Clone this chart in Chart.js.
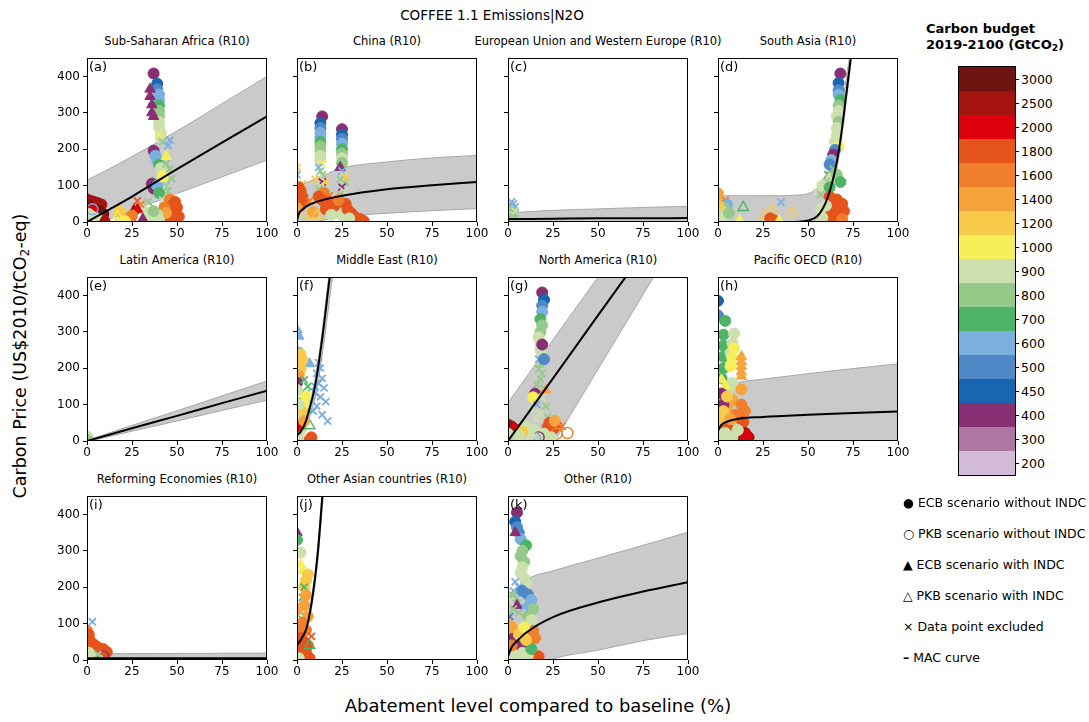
<!DOCTYPE html>
<html>
<head>
<meta charset="utf-8">
<script src="https://cdn.jsdelivr.net/npm/chart.js@4.4.1/dist/chart.umd.min.js"></script>
<style>
body { margin: 0; background: #fff; width: 1089px; height: 722px; position: relative; overflow: hidden; font-family: 'DejaVu Sans', sans-serif; color: #000; }
.t { position: absolute; white-space: nowrap; }
canvas { position: absolute; }
sub { font-size: 70%; vertical-align: -0.25em; line-height: 0; }
</style>
</head>
<body>
<script>
// Farger for karbonbudsjett (GtCO2)
const budgets = [3000, 2500, 2000, 1800, 1600, 1400, 1200, 1000, 900, 800, 700, 600, 500, 450, 400, 300, 200];
const budgetColors = ['#6e1410', '#a3140f', '#de000c', '#e5541b', '#ef7f2b', '#f5a33a', '#f8ca4a', '#f7ef59',
  '#cce0ad', '#95c98a', '#4eb465', '#7bafde', '#4e88c7', '#1965b0', '#882e72', '#ae76a3', '#d1bbd7'];

const xTicks = [0, 25, 50, 75, 100];
const yTicks = [0, 100, 200, 300, 400];

// MAC-kurver: x, middel, nedre og øvre grense
const aX = [0, 10, 25, 50, 75, 100];
const aMid = [0, 28, 70, 145, 218, 290];
const aLo = [-15, 4, 31, 78, 124, 170];
const aHi = [115, 140, 180, 250, 325, 400];

const bX = [0, 1, 2, 5, 10, 25, 50, 75, 100];
const bMid = [5, 22, 30, 42, 54, 72, 90, 101, 110];
const bLo = [-30, -20, -15, -5, 0, 14, 24, 31, 37];
const bHi = [85, 95, 100, 108, 118, 148, 165, 176, 183];

const cX = [0, 25, 50, 75, 100];
const cMid = [8, 9, 10, 10, 11];
const cLo = [-5, -5, -5, -5, -5];
const cHi = [25, 32, 36, 40, 43];

const dX = [0, 30, 45, 50, 55, 58, 60, 63, 66, 68, 70, 72, 74];
const dMid = [0, 0, 1, 4, 15, 35, 55, 100, 165, 225, 300, 380, 460];
const dLo = [-5, -5, -5, -5, 0, 15, 35, 80, 145, 205, 280, 360, 440];
const dHi = [72, 72, 74, 78, 92, 110, 130, 170, 230, 285, 350, 420, 480];

const eX = [0, 25, 50, 75, 100];
const eMid = [0, 35, 69, 104, 138];
const eLo = [-2, 27, 55, 84, 112];
const eHi = [2, 43, 83, 124, 165];

const fX = [0, 2, 5, 7, 10, 12.8, 15, 18, 20];
const fMid = [16, 25, 55, 90, 150, 238, 320, 443, 520];
const fLo = [8, 15, 38, 66, 118, 195, 272, 385, 465];
const fHi = [22, 32, 66, 104, 168, 258, 342, 470, 550];

const gX = [0, 25, 50, 75, 100];
const gMid = [0, 172, 345, 517, 690];
const gLo = [-213, -8, 197, 402, 607];
const gHi = [105, 278, 450, 623, 795];

const hX = [0, 1, 2, 5, 10, 25, 50, 75, 100];
const hMid = [28, 38, 45, 53, 60, 66, 72, 77, 81];
const hLo = [-10, -10, -10, -10, -10, -10, -10, -10, -10];
const hHi = [130, 140, 145, 152, 160, 170, 185, 199, 212];

const iX = [0, 50, 100];
const iMid = [5, 5, 5];
const iLo = [0, 0, 0];
const iHi = [17, 18, 19];

const jX = [0, 2, 5.4, 9, 11.7, 14, 16];
const jMid = [40, 55, 89, 187, 302, 444, 560];
const jLo = [35, 46, 78, 170, 280, 415, 525];
const jHi = [44, 60, 98, 202, 322, 468, 590];

const kX = [0, 2, 5, 10, 25, 50, 75, 100];
const kMid = [10, 35, 52, 75, 118, 158, 188, 214];
const kLo = [-80, -60, -45, -30, 3, 27, 53, 73];
const kHi = [150, 175, 195, 220, 245, 280, 315, 351];

// Scenariopunkter: [abatement %, pris, budsjett, type]
// E = ECB uten INDC, P = PKB uten INDC, T = ECB med INDC, Q = PKB med INDC, X = ekskludert
const aPts = [
  [37,408,400,'E'],[39,380,450,'E'],[39,365,500,'E'],[40,350,600,'E'],[40,335,600,'E'],[40,320,700,'E'],[40,305,800,'E'],
  [40,290,800,'E'],[40,275,900,'E'],[40,260,900,'E'],[41,245,900,'E'],[41,232,900,'E'],[42,220,800,'X'],[46,225,600,'X'],
  [45,210,600,'X'],[35,365,400,'T'],[35,345,400,'T'],[36,322,400,'T'],[36,300,400,'T'],[37,290,400,'T'],[37,196,400,'E'],
  [38,182,600,'E'],[39,170,600,'E'],[40,158,700,'E'],[41,148,900,'E'],[42,135,900,'E'],[44,160,800,'X'],[46,145,800,'X'],
  [47,120,800,'X'],[44,100,800,'X'],[42,90,900,'X'],[38,115,800,'X'],[36,105,400,'E'],[37,92,400,'E'],[39,100,600,'E'],
  [40,80,700,'E'],[45,85,800,'X'],[48,70,900,'X'],[42,60,900,'X'],[34,55,800,'X'],[32,40,900,'X'],[28,58,1800,'X'],
  [30,48,1600,'X'],[42,125,1000,'E'],[44,180,1000,'T'],[40,240,1000,'X'],
  [46,62,1600,'E'],[49,55,1800,'E'],[47,45,1800,'E'],[50,40,1800,'E'],[46,30,1800,'E'],[49,25,1800,'E'],[44,15,1800,'E'],
  [48,10,1800,'E'],[51,15,1800,'E'],[47,3,1800,'E'],[43,40,1600,'E'],[44,25,1400,'E'],
  [33,25,900,'E'],[36,15,900,'E'],[39,20,900,'E'],[35,5,900,'E'],[40,5,900,'E'],[31,8,400,'T'],[37,30,800,'E'],
  [0,62,2500,'E'],[2,58,2500,'E'],[4,55,2500,'E'],[6,52,2500,'E'],[8,48,2500,'E'],[1,45,2500,'E'],[3,42,3000,'E'],
  [5,40,2500,'E'],[7,30,3000,'E'],[9,22,3000,'E'],[3,32,2000,'E'],[1,22,900,'E'],[3,15,900,'E'],[5,10,900,'E'],
  [1,5,900,'E'],[8,5,900,'E'],[10,12,2500,'T'],[3,35,600,'P'],
  [18,28,1200,'E'],[20,22,1200,'P'],[17,15,1000,'Q'],[19,12,1200,'P'],[22,8,1400,'E'],[24,5,1800,'E'],[26,32,2500,'T'],
  [28,35,2000,'T'],[25,18,1600,'E'],[21,3,1000,'E']
];
const bPts = [
  [14,290,400,'E'],[13,272,450,'E'],[13,258,500,'E'],[13,245,600,'E'],[13,232,600,'E'],[13,220,700,'E'],[13,208,800,'E'],
  [13,195,800,'E'],[13,182,900,'E'],[13,170,900,'E'],[14,160,1000,'X'],[12,150,600,'X'],[13,140,800,'X'],[14,130,800,'X'],
  [12,120,900,'X'],[14,110,400,'X'],[13,100,900,'X'],[12,90,800,'X'],[15,80,1600,'E'],[12,70,1800,'E'],[14,60,1800,'E'],
  [10,118,1200,'X'],[16,110,1200,'X'],
  [25,255,400,'E'],[25,240,450,'E'],[25,228,500,'E'],[25,215,600,'E'],[25,200,700,'E'],[25,188,800,'E'],[25,175,900,'E'],
  [25,162,800,'E'],[24,150,400,'T'],[25,140,600,'X'],[26,128,900,'X'],[24,118,800,'X'],[27,108,800,'X'],[25,96,400,'X'],
  [27,122,1200,'X'],[26,85,900,'X'],[24,75,800,'X'],
  [0,130,600,'X'],[3,105,1200,'X'],[1,95,1800,'E'],[2,85,1800,'E'],[0,78,1800,'E'],[3,70,1800,'E'],[1,62,1800,'E'],
  [4,55,1800,'E'],[2,45,1800,'E'],[0,38,1400,'E'],[0,150,1200,'X'],[7,58,1600,'X'],[18,72,1600,'X'],[5,25,1200,'P'],
  [8,22,1200,'P'],[9,27,1400,'E'],[11,18,1200,'Q'],
  [20,40,900,'E'],[22,28,900,'E'],[26,12,900,'E'],[18,55,1800,'E'],[21,45,1800,'E'],[28,35,1800,'E'],[30,25,1800,'E'],
  [32,15,1800,'E'],[35,8,1800,'E'],[37,3,1800,'E'],[27,50,1800,'E'],[23,60,1600,'E'],[29,10,900,'E'],[16,35,1800,'E'],
  [19,20,900,'E']
];
const cPts = [
  [2,55,600,'X'],[3,50,600,'X'],[1,46,600,'X'],[4,42,600,'X'],[1,30,800,'E'],[3,22,800,'E'],[0,15,900,'E'],[2,8,800,'E'],
  [4,30,900,'X']
];
const dPts = [
  [4,60,1600,'X'],[2,55,1600,'X'],[0,78,1400,'E'],[5,48,600,'E'],[3,40,800,'E'],[2,30,900,'E'],[4,20,900,'E'],[1,10,900,'E'],
  [6,25,800,'E'],[0,45,1200,'E'],
  [14,40,700,'Q'],[30,32,1200,'Q'],[26,18,1200,'Q'],[41,25,1200,'Q'],[35,55,600,'X'],[29,10,1800,'E'],[31,5,1800,'E'],
  [12,4,1000,'T'],[34,4,1000,'T'],
  [55,82,900,'X'],[68,408,400,'E'],[67,382,450,'E'],[67,362,500,'E'],[67,350,600,'E'],[68,335,700,'E'],[67,320,800,'E'],
  [67,305,900,'E'],[66,290,900,'E'],[67,275,800,'E'],[66,258,900,'E'],[66,240,900,'E'],[65,222,900,'E'],[67,208,1000,'E'],
  [65,198,500,'E'],[64,185,400,'E'],[63,170,600,'E'],[62,158,500,'E'],[64,145,800,'X'],[61,130,700,'X'],[63,120,900,'E'],
  [60,110,800,'X'],[58,100,900,'E'],[62,95,700,'E'],[57,75,800,'X'],[66,130,800,'E'],[68,110,700,'E'],
  [62,70,1800,'E'],[66,62,1800,'E'],[69,50,1800,'E'],[64,40,1800,'E'],[70,30,1800,'E'],[61,22,1800,'E'],[67,15,1800,'E'],
  [63,5,1800,'E'],[69,8,1600,'E'],[57,35,900,'E'],[58,12,900,'E'],[60,45,900,'E']
];
const ePts = [[0,12,900,'E'],[1,6,900,'E'],[0,3,800,'E']];
const fPts = [
  [0,305,600,'T'],[1,288,600,'T'],[7,212,600,'T'],[1,243,600,'E'],[2,238,1200,'E'],[3,222,1200,'E'],[2,198,1200,'E'],
  [1,180,1400,'E'],[0,160,400,'E'],
  [12,215,600,'X'],[13,200,600,'X'],[11,186,600,'X'],[14,172,600,'X'],[12,158,600,'X'],[15,146,600,'X'],[10,132,600,'X'],
  [13,121,600,'X'],[16,108,600,'X'],[11,96,600,'X'],[9,82,600,'X'],[14,72,600,'X'],[17,55,600,'X'],[8,110,600,'X'],
  [10,150,600,'X'],
  [4,168,700,'X'],[6,150,700,'X'],[5,130,700,'X'],[3,110,700,'X'],[6,88,700,'X'],
  [5,122,1000,'E'],[4,100,1000,'E'],[3,80,1200,'E'],[0,140,900,'E'],[1,100,900,'E'],[0,60,900,'E'],[2,30,900,'E'],
  [1,15,900,'E'],[7,42,700,'Q'],[1,42,2000,'E'],[8,10,1800,'E'],[7,3,1800,'E'],[4,55,1400,'E']
];
const gPts = [
  [19,408,400,'E'],[20,388,450,'E'],[19,372,500,'E'],[19,355,600,'E'],[18,335,700,'E'],[19,318,800,'E'],[18,300,800,'E'],
  [17,285,900,'E'],[18,268,900,'E'],[18,250,900,'E'],[19,235,900,'E'],[17,225,600,'X'],[18,212,800,'X'],[17,198,800,'X'],
  [19,185,800,'X'],[18,170,800,'X'],[16,155,800,'X'],[20,145,800,'X'],[15,130,400,'E'],[21,140,1400,'T'],[14,120,1000,'E'],
  [19,120,900,'X'],[16,100,600,'X'],[21,95,800,'X'],[13,85,900,'X'],[18,75,900,'X'],[22,65,800,'X'],[16,60,900,'X'],
  [19,265,400,'E'],[20,225,500,'E'],
  [0,45,2500,'E'],[2,40,2500,'E'],[1,30,3000,'E'],[4,32,2000,'E'],[0,20,900,'E'],[27,42,1800,'E'],[25,32,1800,'E'],
  [22,38,1800,'E'],[27,20,1600,'P'],[33,22,1600,'P'],[30,40,1600,'X'],[10,40,900,'E'],[14,30,900,'E'],[20,20,900,'E'],
  [24,10,900,'E'],[17,10,400,'P'],[15,8,600,'P'],[12,15,900,'E'],[8,25,1200,'E'],[6,15,900,'E'],[23,50,1800,'E'],
  [26,55,1400,'E']
];
const hPts = [
  [0,385,450,'E'],[0,345,500,'E'],[4,330,700,'E'],[3,292,700,'E'],[3,262,700,'E'],[3,232,700,'E'],[3,200,700,'E'],
  [2,172,700,'E'],[9,295,900,'E'],[8,268,900,'E'],[7,242,900,'E'],[9,255,1000,'E'],[8,228,1000,'E'],[7,205,1000,'E'],
  [13,232,1400,'T'],[13,218,1400,'T'],[13,205,1400,'T'],[13,190,1400,'T'],[13,178,1400,'T'],[8,160,900,'E'],[7,150,900,'E'],
  [2,125,900,'E'],[2,168,1000,'T'],[4,152,1000,'T'],[13,142,1400,'E'],[8,112,1400,'E'],[5,92,1400,'E'],[13,100,1600,'E'],
  [15,82,1600,'E'],[12,62,1600,'E'],[10,72,1600,'E'],[2,130,400,'E'],[3,100,400,'E'],[5,122,1200,'E'],[3,82,1200,'E'],
  [1,60,1200,'E'],[14,52,1800,'E'],[5,40,1800,'E'],[15,22,2500,'E'],[17,10,2500,'E'],[14,5,2500,'E'],[16,15,2000,'E'],
  [4,22,900,'E'],[8,10,900,'E'],[2,5,900,'E'],[11,30,900,'E'],[7,60,1400,'E']
];
const iPts = [
  [3,105,600,'X'],[0,80,1600,'E'],[1,70,1800,'E'],[1,60,1800,'E'],[2,50,1800,'E'],[4,42,1800,'E'],[6,35,1800,'E'],
  [9,30,1800,'E'],[11,22,1800,'E'],[1,20,900,'E'],[3,10,900,'E'],[9,10,400,'P'],[6,15,800,'X']
];
const jPts = [
  [0,350,400,'T'],[0,330,700,'E'],[2,295,900,'E'],[2,262,1000,'T'],[3,245,1000,'T'],[6,235,1200,'E'],[5,218,1200,'E'],
  [4,202,1200,'E'],[4,200,700,'X'],[3,172,700,'X'],[2,132,700,'X'],[3,112,700,'X'],[2,92,700,'X'],[5,178,1400,'E'],
  [4,150,1400,'E'],[6,120,1400,'E'],[3,102,1600,'E'],[5,82,1600,'E'],[2,72,1600,'E'],[2,60,1800,'E'],[4,50,1800,'E'],
  [6,40,1800,'E'],[3,30,1800,'E'],[5,20,1800,'E'],[1,10,1800,'E'],[7,5,1800,'E'],[8,65,1800,'X'],[7,40,700,'Q'],
  [1,5,900,'E'],[0,140,1400,'E']
];
const kPts = [
  [5,405,400,'E'],[4,380,450,'E'],[5,365,500,'E'],[6,350,500,'E'],[7,332,600,'E'],[10,315,700,'E'],[8,300,800,'E'],
  [7,285,800,'E'],[9,270,800,'E'],[8,255,900,'E'],[7,240,900,'E'],[9,225,900,'E'],[10,210,900,'E'],[4,215,600,'X'],
  [6,200,600,'X'],[3,190,600,'X'],[2,180,800,'X'],[5,170,800,'X'],[4,350,400,'T'],[5,150,400,'T'],[8,190,500,'E'],
  [11,180,500,'E'],[13,165,600,'E'],[12,150,600,'E'],[14,140,800,'E'],[11,120,800,'E'],[13,110,900,'E'],[3,60,400,'E'],
  [7,40,400,'E'],[0,100,1400,'E'],[2,90,1400,'E'],[14,80,1600,'E'],[15,60,1600,'E'],[12,50,1600,'E'],[17,10,1800,'E'],
  [15,3,1800,'E'],[8,20,900,'E'],[11,10,900,'E'],[4,10,900,'E'],[6,70,1200,'E'],[9,90,1000,'E'],[1,120,500,'X'],
  [13,30,700,'E'],[1,160,900,'X'],[3,140,800,'X'],[6,130,800,'X'],[9,145,600,'X'],[2,40,1600,'E'],[10,55,1200,'E']
];

const panels = [
  { title: 'Sub-Saharan Africa (R10)', tag: '(a)', col: 0, row: 0, x: aX, mid: aMid, lo: aLo, hi: aHi, pts: aPts },
  { title: 'China (R10)', tag: '(b)', col: 1, row: 0, x: bX, mid: bMid, lo: bLo, hi: bHi, pts: bPts },
  { title: 'European Union and Western Europe (R10)', tag: '(c)', col: 2, row: 0, x: cX, mid: cMid, lo: cLo, hi: cHi, pts: cPts },
  { title: 'South Asia (R10)', tag: '(d)', col: 3, row: 0, x: dX, mid: dMid, lo: dLo, hi: dHi, pts: dPts },
  { title: 'Latin America (R10)', tag: '(e)', col: 0, row: 1, x: eX, mid: eMid, lo: eLo, hi: eHi, pts: ePts },
  { title: 'Middle East (R10)', tag: '(f)', col: 1, row: 1, x: fX, mid: fMid, lo: fLo, hi: fHi, pts: fPts },
  { title: 'North America (R10)', tag: '(g)', col: 2, row: 1, x: gX, mid: gMid, lo: gLo, hi: gHi, pts: gPts },
  { title: 'Pacific OECD (R10)', tag: '(h)', col: 3, row: 1, x: hX, mid: hMid, lo: hLo, hi: hHi, pts: hPts },
  { title: 'Reforming Economies (R10)', tag: '(i)', col: 0, row: 2, x: iX, mid: iMid, lo: iLo, hi: iHi, pts: iPts },
  { title: 'Other Asian countries (R10)', tag: '(j)', col: 1, row: 2, x: jX, mid: jMid, lo: jLo, hi: jHi, pts: jPts },
  { title: 'Other (R10)', tag: '(k)', col: 2, row: 2, x: kX, mid: kMid, lo: kLo, hi: kHi, pts: kPts }
];

// Plassering av plottområdene
const colLeft = [87, 297, 508, 718];
const rowTop = [53, 272, 491];
const plotW = 180, plotH = 169;
const padL = 45, padT = 5, padR = 16, padB = 24;

Chart.defaults.font.family = 'DejaVu Sans';
Chart.defaults.font.size = 12;
Chart.defaults.color = '#000';

function addText(html, css) {
  const d = document.createElement('div');
  d.className = 't';
  d.innerHTML = html;
  Object.assign(d.style, css);
  document.body.appendChild(d);
  return d;
}

function colorOf(b) {
  return budgetColors[budgets.indexOf(b)];
}

// Ramme rundt hele plottområdet
const frame = {
  id: 'frame',
  afterDatasetsDraw(chart) {
    const a = chart.chartArea, g = chart.ctx;
    g.save();
    g.strokeStyle = '#000';
    g.lineWidth = 1;
    g.strokeRect(Math.round(a.left) + 0.5, Math.round(a.top) + 0.5, Math.round(a.width) - 1, Math.round(a.height) - 1);
    g.restore();
  }
};

function line(xs, ys) {
  return xs.map((v, i) => ({ x: v, y: ys[i] }));
}

panels.forEach(p => {
  const cv = document.createElement('canvas');
  const W = padL + plotW + padR, H = padT + plotH + padB;
  cv.width = W; cv.height = H;
  cv.style.left = (colLeft[p.col] - padL) + 'px';
  cv.style.top = (rowTop[p.row] - padT) + 'px';
  cv.style.width = W + 'px'; cv.style.height = H + 'px';
  document.body.appendChild(cv);

  const pts = p.pts;
  const fill = pts.map(q => (q[3] === 'P' || q[3] === 'Q') ? 'rgba(0,0,0,0)' : colorOf(q[2]));

  new Chart(cv, {
    type: 'scatter',
    data: {
      datasets: [
        { data: line(p.x, p.mid), showLine: true, borderColor: '#000', borderWidth: 2, pointRadius: 0,
          cubicInterpolationMode: 'monotone', order: 0 },
        { data: pts.map(q => ({ x: q[0], y: q[1] })), showLine: false,
          pointStyle: pts.map(q => q[3] === 'X' ? 'crossRot' : (q[3] === 'T' || q[3] === 'Q') ? 'triangle' : 'circle'),
          pointRadius: pts.map(q => q[3] === 'X' ? 5 : (q[3] === 'T' || q[3] === 'Q') ? 6 : 5.5),
          pointBackgroundColor: fill,
          pointBorderColor: pts.map(q => colorOf(q[2])),
          pointBorderWidth: pts.map(q => q[3] === 'X' ? 1.8 : (q[3] === 'P' || q[3] === 'Q') ? 1.4 : 1),
          order: 1 },
        { data: line(p.x, p.hi), showLine: true, borderColor: '#a8a8a8', borderWidth: 1, pointRadius: 0,
          cubicInterpolationMode: 'monotone', order: 2 },
        { data: line(p.x, p.lo), showLine: true, borderColor: '#a8a8a8', borderWidth: 1, pointRadius: 0,
          cubicInterpolationMode: 'monotone', fill: '-1', backgroundColor: '#cacaca', order: 2 }
      ]
    },
    options: {
      responsive: false,
      animation: false,
      devicePixelRatio: 1,
      layout: { padding: { top: padT, right: padR, left: 0, bottom: 0 } },
      plugins: { legend: { display: false }, tooltip: { enabled: false } },
      scales: {
        x: {
          type: 'linear', min: 0, max: 100,
          afterBuildTicks: s => { s.ticks = xTicks.map(v => ({ value: v })); },
          afterFit: s => { s.height = padB; },
          grid: { drawOnChartArea: false, drawTicks: true, tickLength: 4, color: '#000' },
          border: { display: false },
          ticks: { padding: 1, maxRotation: 0, autoSkip: false, color: '#000' }
        },
        y: {
          type: 'linear', min: 0, max: 450,
          afterBuildTicks: s => { s.ticks = yTicks.map(v => ({ value: v })); },
          afterFit: s => { s.width = padL; },
          grid: { drawOnChartArea: false, drawTicks: true, tickLength: 4, color: '#000' },
          border: { display: false },
          ticks: { padding: 3, color: '#000', callback: v => p.col === 0 ? v : '' }
        }
      }
    },
    plugins: [frame]
  });

  addText(p.title, { left: (colLeft[p.col] + plotW / 2 - 200) + 'px', width: '400px', textAlign: 'center',
    top: (rowTop[p.row] - 19) + 'px', fontSize: '11.5px', lineHeight: '14px' });
  addText(p.tag, { left: (colLeft[p.col] + 2) + 'px', top: (rowTop[p.row] + 6) + 'px', fontSize: '13px', lineHeight: '15px' });
});

// Overskrift og aksetitler
addText('COFFEE 1.1 Emissions|N2O', { left: '292px', width: '400px', textAlign: 'center', top: '6px', fontSize: '13.5px', lineHeight: '18px' });
addText('Abatement level compared to baseline (%)', { left: '238px', width: '600px', textAlign: 'center', top: '695px', fontSize: '18px', lineHeight: '22px' });
addText('Carbon Price (US$2010/tCO<sub>2</sub>-eq)', { left: '-180px', width: '400px', textAlign: 'center', top: '345px',
  fontSize: '17.5px', lineHeight: '22px', transform: 'rotate(-90deg)' });

// Fargeskala
const cbLeft = 959, cbTop = 67, cbW = 56, cbSeg = 24;
addText('Carbon budget<br>2019-2100 (GtCO<sub>2</sub>)', { left: '926px', top: '21px', fontSize: '13px', fontWeight: 'bold', lineHeight: '16px' });
budgets.forEach((b, i) => {
  const d = document.createElement('div');
  Object.assign(d.style, { position: 'absolute', left: cbLeft + 'px', top: (cbTop + i * cbSeg) + 'px', width: cbW + 'px',
    height: cbSeg + 'px', background: budgetColors[i] });
  document.body.appendChild(d);
  const tk = document.createElement('div');
  Object.assign(tk.style, { position: 'absolute', left: (cbLeft + cbW) + 'px', top: (cbTop + i * cbSeg + 12) + 'px', width: '4px',
    height: '1px', background: '#000' });
  document.body.appendChild(tk);
  addText(String(b), { left: (cbLeft + cbW + 6) + 'px', top: (cbTop + i * cbSeg + 5) + 'px', fontSize: '12.5px', lineHeight: '16px' });
});
const box = document.createElement('div');
Object.assign(box.style, { position: 'absolute', left: (cbLeft - 1) + 'px', top: (cbTop - 1) + 'px', width: cbW + 'px',
  height: (cbSeg * budgets.length) + 'px', border: '1px solid #000' });
document.body.appendChild(box);

// Forklaring
const legendItems = ['● ECB scenario without INDC', '○ PKB scenario without INDC', '▲ ECB scenario with INDC',
  '△ PKB scenario with INDC', '× Data point excluded', '<b>–</b> MAC curve'];
legendItems.forEach((s, i) => {
  addText(s, { left: '903px', top: (495 + i * 31) + 'px', fontSize: '12.5px', lineHeight: '16px' });
});
</script>
</body>
</html>
